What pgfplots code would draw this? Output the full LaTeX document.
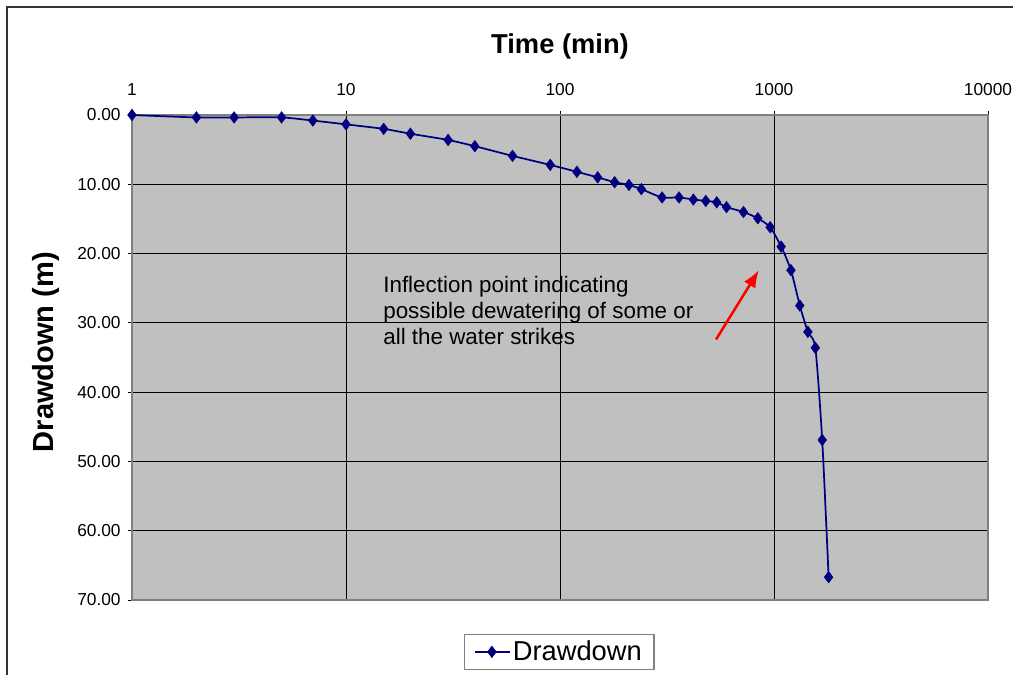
\documentclass[border=0pt]{standalone}
\usepackage{fontspec}
\setmainfont{Liberation Sans}
\usepackage{pgfplots}
\pgfplotsset{compat=1.18}
\usetikzlibrary{arrows.meta}

\definecolor{plotgray}{RGB}{192,192,192}
\definecolor{framegray}{RGB}{128,128,128}
\definecolor{navy}{RGB}{0,0,128}

\begin{document}
\begin{tikzpicture}
% page = 1016 x 675 px at 0.75pt per px, axis box lower-left at origin
\useasboundingbox (-99pt,-56.25pt) rectangle (663pt,450pt);
\draw[line width=0.9pt, black!80] (-93.75pt,-56.25pt) -- (-93.75pt,444.75pt) -- (660.75pt,444.75pt);

\begin{axis}[
    scale only axis,
    width=642pt,
    height=363.75pt,
    xmode=log,
    xmin=1, xmax=10000,
    ymin=0, ymax=70,
    y dir=reverse,
    xtick={1,10,100,1000,10000},
    xticklabels={1,10,100,1000,10000},
    xminorticks=false,
    ytick={0,10,...,70},
    yticklabel style={xshift=-2pt, /pgf/number format/.cd, fixed, fixed zerofill, precision=2},
    /pgf/number format/assume math mode=true,
    xticklabel pos=upper,
    xtick pos=upper,
    ytick pos=left,
    tick align=outside,
    major tick length=3pt,
    tick style={black, line width=0.6pt},
    ticklabel style={font=\fontsize{13}{15}\selectfont},
    xticklabel style={yshift=8pt},
    axis background/.style={fill=plotgray},
    axis line style={framegray, line width=1.5pt},
    grid=major,
    major grid style={black, line width=0.7pt},
    legend style={at={(0.499,-0.107)}, anchor=center, draw=framegray,
        line width=0.9pt, font=\fontsize{20.5}{22}\selectfont,
        inner xsep=7pt, inner ysep=3pt},
    legend cell align=left,
    legend image code/.code={\draw[mark repeat=2, mark phase=2, #1] plot coordinates {(0pt,0pt) (13pt,0pt) (26pt,0pt)};},
    clip=false,
]

\addplot[color=navy, line width=1.3pt, smooth, tension=0.4,
    mark=diamond*, mark size=4.4pt, mark options={fill=navy, draw=navy, line width=0.3pt}]
    coordinates {
    (1,0)
    (2,0.35)
    (3,0.35)
    (5,0.35)
    (7,0.8)
    (10,1.35)
    (15,2.0)
    (20,2.7)
    (30,3.6)
    (40,4.5)
    (60,5.9)
    (90,7.2)
    (120,8.2)
    (150,9.0)
    (180,9.7)
    (210,10.1)
    (240,10.7)
    (300,11.9)
    (360,11.9)
    (420,12.2)
    (480,12.4)
    (540,12.6)
    (600,13.3)
    (720,14.0)
    (840,14.9)
    (960,16.2)
    (1080,19.0)
    (1200,22.4)
    (1320,27.5)
    (1440,31.3)
    (1560,33.6)
    (1680,46.9)
    (1800,66.7)
    };
\addlegendentry{Drawdown}

\node[font=\bfseries\fontsize{20.5}{24}\selectfont] at (rel axis cs:0.5,1) [yshift=51.75pt] {Time (min)};
\node[font=\bfseries\fontsize{21.8}{24}\selectfont, rotate=90] at ([xshift=-64.5pt, yshift=4pt]rel axis cs:0,0.5) {Drawdown (m)};

\node[anchor=north west, align=left, inner sep=0pt,
      font=\fontsize{16.8}{19.5}\selectfont] at (axis cs:14.9,23.2)
      {Inflection point indicating\\possible dewatering of some or\\all the water strikes};

\draw[red, line width=1.9pt, -{Latex[length=13pt, width=10pt]}] (axis cs:536,32.4) -- (axis cs:850,22.4);

\end{axis}
\end{tikzpicture}
\end{document}
